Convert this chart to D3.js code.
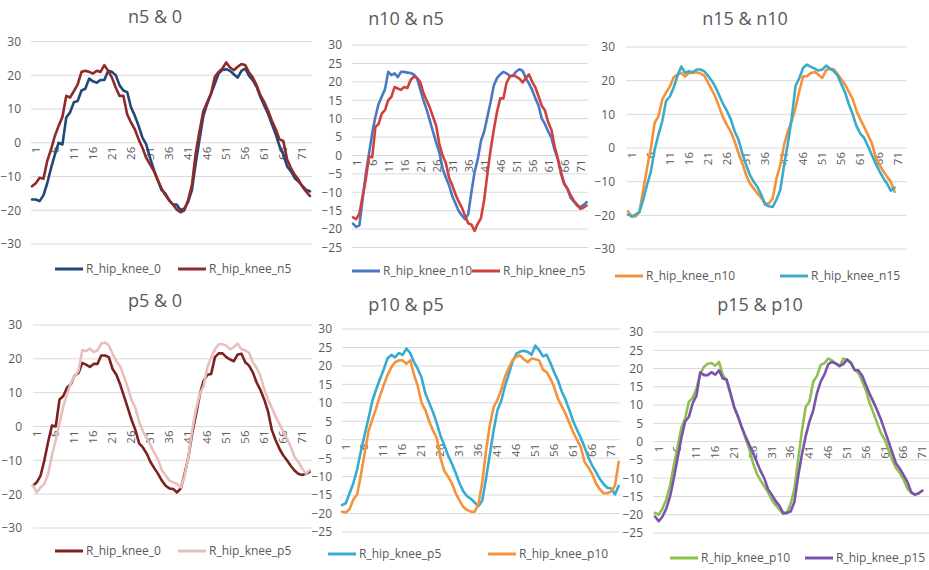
<!DOCTYPE html>
<html><head><meta charset="utf-8">
<script src="https://cdn.jsdelivr.net/npm/d3@7"></script>
<style>body{margin:0;background:#fff}svg{display:block}text{font-family:"Open Sans","Liberation Sans",sans-serif;fill:#595959}</style>
</head><body><svg id="c" width="929" height="570"></svg>
<script>
// ---------- data ----------
const titles = ["n5 & 0","n10 & n5","n15 & n10","p5 & 0","p10 & p5","p15 & p10"];
const seriesNames = [
  ["R_hip_knee_0","R_hip_knee_n5"],
  ["R_hip_knee_n10","R_hip_knee_n5"],
  ["R_hip_knee_n10","R_hip_knee_n15"],
  ["R_hip_knee_0","R_hip_knee_p5"],
  ["R_hip_knee_p5","R_hip_knee_p10"],
  ["R_hip_knee_p10","R_hip_knee_p15"]
];
const categories = d3.range(1, 75);
const xTickLabels = [1,6,11,16,21,26,31,36,41,46,51,56,61,66,71];
const yTicksA = [-30,-20,-10,0,10,20,30];
const yTicksB = [-25,-20,-15,-10,-5,0,5,10,15,20,25,30];

const p1_0 = [-16.8,-16.8,-17.3,-15.6,-12,-7.5,-3.5,0,-0.5,7.5,9,12,12.4,15.5,16,19,18.2,17.8,18.6,18.6,21.3,21,20,17,15.5,15,10.5,8,5,1.5,-0.5,-4.5,-8,-11,-14,-15,-17,-18.3,-18.3,-20,-19.5,-17.5,-14,-6,1,8,11.5,14.5,17.5,20.5,21.6,21.8,21.3,20.3,19.3,21.3,22,19.8,18.5,16.5,13.5,11,8.5,5.5,2.5,-1,-3.5,-7,-8.5,-10.5,-11.5,-12.8,-14,-14.4];
const p1_n5 = [-12.9,-12,-10.4,-10.7,-5.4,-2,2,5,7.7,13.9,13.4,15.3,17.3,21,21.3,21,20.5,21.3,21,23,21.3,19.3,16.3,13.9,13.9,8.4,6,4,1,-1.5,-4.5,-6.4,-8.4,-11,-13.5,-15.5,-17,-18.3,-19.8,-20.6,-20,-17,-12.5,-3,3.5,9.4,12,14.5,19.5,21,22,23.8,22.3,21.5,22.5,23.3,23,20.8,19.3,17,14,12,9.5,6.5,4,1,0.5,-5,-7.5,-9.5,-11,-13,-14.5,-15.8];

const p2_n10 = [-18.5,-19.4,-19,-12,-5,0.5,6,10.5,14,16,18,22.7,21.8,22.3,21.3,22.7,22.7,22.5,22.4,22,21,18,15,12.5,9.5,6.5,3.5,0.7,-3.5,-6,-8,-11,-13,-15,-16.3,-17.3,-16,-10,-4.5,-1,4,6.5,10.5,14.5,19,21,22,22.7,22.3,21.6,21.6,22.8,23.4,23,21,19.5,17.8,15.5,13.5,10,8.5,6.5,4.8,1.5,-1,-4.5,-7.5,-9,-11.5,-12.5,-13.6,-14,-13.5,-12.7];
const p2_n5 = [-16.8,-17.3,-15.8,-11,-6.5,-0.3,-0.5,7.7,8.6,11.4,12.3,15,15.9,18.6,18.2,17.8,18.6,18.3,20.5,21.4,21,20,17,15,13,10.5,8,3,0,-2,-6,-8,-10.5,-12.5,-14.1,-16.4,-18.4,-18.8,-20.5,-18.5,-17,-12,-5,1.5,7,11.8,15.5,15.5,19.8,21.4,21.8,21.4,20.9,19.8,21,22,20,18.5,16,13.5,12.2,9,7,2.5,-0.8,-5,-7.8,-9,-10.8,-12.3,-13.3,-14.5,-14.2,-13.6];

const p3_n10 = [-18.8,-20.3,-20.3,-19,-12.4,-6,0,7.5,9.4,14.4,16.5,18.3,21,21.8,22.3,21.2,22.3,22.3,22.5,22.2,21.5,19.5,17.3,15,12,9,6.8,4.8,2,-1.5,-4.5,-8,-10.5,-12,-13.5,-14.8,-16.5,-16.5,-15,-9,-5,1,5,8,12,17,21.3,21.3,22.3,22.6,21.8,20.8,23.1,23.5,23.4,22,20.4,18.8,16.7,14.5,11,8.5,6.3,3.9,1.5,-2.5,-5,-6.8,-8.5,-10,-13];
const p3_n15 = [-19.8,-20.3,-19.8,-19,-15.3,-11,-7,-0.5,4,8,14,15.3,18,21.5,24.2,22.3,22.8,22.5,23.3,23.3,22.8,21.5,20,18,15.5,13,11,8.5,5,2.5,-1.5,-5,-8,-10,-11.6,-13.9,-16.8,-17.3,-17.5,-15.3,-12.4,-5,1.5,9,18.5,20.8,23.8,24.8,24.1,23.6,23,23.3,24.5,23.6,22.9,21.6,19,16.5,13,10,6.5,4.3,3,0.6,-2,-4.5,-6.8,-8.9,-10.5,-12.7,-11.8];

const p4_0 = [-17.5,-16.5,-14.5,-10,-4.5,0.3,0,8,9,11.5,12.5,15,15.8,18.8,18.3,17.6,18.5,18.5,21,21,20.5,17,15.3,12.4,9,5.5,2,-1,-5,-6.2,-8,-10.5,-12.3,-14,-16,-17.5,-18.3,-18.5,-19.5,-18.3,-14,-9,-2,3.5,9.4,13.5,15.3,15.5,20.5,21.6,21.6,20.5,19.8,19.3,21.3,21.5,19,18,16,13,10.8,8,4.5,-1,-4,-6.5,-8.5,-10,-11.6,-13,-14,-14.3,-14,-13.4];
const p4_p5 = [-17.5,-19.5,-18,-17,-14,-8.5,-4,1,6,9.5,12.8,14.8,16.5,22.5,22.3,23,22,22.5,24.5,24.8,24,21.5,19.3,17.8,14.8,11.5,7.8,5.5,1.5,-1.5,-3.5,-5.5,-7.8,-9.8,-12.9,-14.5,-16,-16.5,-17,-18,-14.5,-9,-1,5,9.6,11.9,17.5,20.3,22.8,24.3,24.3,23.9,22.8,23.5,24.5,22.8,22.5,21.8,19,17.3,15,11,8,5.5,3,0.8,-1.5,-3.5,-6,-9,-10.5,-12.4,-13.9,-12.9];

const p5_p5 = [-17.7,-17.2,-14.5,-11.8,-8,-3,1.5,5.8,10.5,13.6,16.4,19,22,23,22.3,23.5,23,24.7,23.5,21,19.2,16.8,12.5,10,7.5,4.5,1,-1.5,-4.3,-6.5,-9,-11.8,-14,-15.3,-16,-17,-18,-16.5,-10.5,-4,2.5,8,10.5,14.5,17.8,21.2,23.3,23.9,24.1,23.8,23,25.5,24.3,22.6,23,20.8,18.2,16,13,10.8,8,5,2.7,0.5,-2,-4.8,-7,-8.7,-10.6,-12,-13,-13.2,-14.8,-12.5];
const p5_p10 = [-19.5,-19.7,-18.8,-16.2,-14.8,-9.5,-3.5,2.3,5.5,8.5,11.8,14.8,17.5,19.6,21,21.5,21.5,20.6,21.5,17.6,14.5,10,8,5,2.5,0.5,-5,-8.5,-10,-11.8,-14.5,-16.5,-18.2,-19,-19.5,-19.5,-17.5,-11.5,-3,4,8.8,10.8,13.5,17,19.5,21.6,22.5,22.8,21.8,21,22,21.8,21.5,19,18.3,16.5,14.2,11,9,7,4.5,2,0,-2,-6,-7.5,-9.3,-11.8,-13.4,-14.5,-14.5,-14,-12.5,-6];

const p6_p10 = [-19.5,-20,-18.3,-15.8,-12,-6.5,-1.5,3.8,6.4,10.9,12,14.5,18.5,20.5,21.3,21.5,20.8,21.8,18.2,16.8,13,9.5,6.8,4,1,-2,-5.8,-8.7,-10.6,-12.2,-13.8,-15.9,-17.3,-18.5,-19.8,-19.5,-17,-13,-5,3,9.5,11,16.4,18,21,21.5,22.7,22.2,21.3,20.6,22.7,22.3,21.5,19.6,18.8,16.5,14,10.5,7.8,5,2.3,0.5,-2.3,-5,-7.3,-8.6,-10.4,-12.8,-14,-14.5,-14.2];
const p6_p15 = [-20.5,-21.8,-20.5,-18.3,-15,-10,-4.5,1,5.5,6.8,10.5,12.5,19,18.2,18.2,19,18.3,19.5,17.3,17,13.5,9.5,7,4,1.5,-0.8,-3,-5.5,-8,-10,-13,-14.5,-16.2,-17.5,-19.5,-19.5,-19.1,-16.5,-9.5,-3.5,1.5,5.5,8.5,13.3,16.5,18.4,21.2,21.8,21.4,20.7,21.2,22.5,21.6,19.6,19.5,18,15.5,13,10.8,8.5,6,3,0,-3,-6,-7.4,-9.2,-11,-13.8,-14.5,-14.1,-13.4];

const seriesData = [[p1_0,p1_n5],[p2_n10,p2_n5],[p3_n10,p3_n15],[p4_0,p4_p5],[p5_p5,p5_p10],[p6_p10,p6_p15]];
const seriesColors = [["#24477a","#8e2a28"],["#4a78c4","#d0403f"],["#f5913a","#3aabc8"],["#7d2020","#e8bfbe"],["#38abd0","#f6923a"],["#8dc04c","#7b52ae"]];

// ---------- layout (per panel) ----------
const panels = [
  {gx:[31,312], px:[32,310],   yd:[-30,30], yr:[244,41.5], ticks:yTicksA, lx:21,  title:[155,23],  leg:{y:269,a:55,b:178}},
  {gx:[352,588],px:[353,586.6],yd:[-25,30], yr:[247.5,45], ticks:yTicksB, lx:342, title:[406,25],  leg:{y:271,a:352,b:472}},
  {gx:[626,907],px:[628,906],  yd:[-30,30], yr:[249,47],   ticks:yTicksA, lx:615, title:[745,25],  leg:{y:276,a:615,b:780}},
  {gx:[33,312], px:[33,309.7], yd:[-30,30], yr:[528,325],  ticks:yTicksA, lx:22,  title:[155,307], leg:{y:551,a:55,b:178}},
  {gx:[342,620],px:[342,618.7],yd:[-25,30], yr:[532,329],  ticks:yTicksB, lx:332, title:[406,311], leg:{y:554,a:328,b:488}},
  {gx:[653,929],px:[655,930],  yd:[-25,30], yr:[533,332],  ticks:yTicksB, lx:643, title:[760,311], leg:{y:558,a:670,b:805}}
];

const svg = d3.select("#c");
panels.forEach((p, k) => {
  const g = svg.append("g");
  const x = d3.scalePoint().domain(categories).range(p.px);
  const y = d3.scaleLinear().domain(p.yd).range(p.yr);
  // gridlines
  g.selectAll("line.grid").data(p.ticks).join("line")
    .attr("x1", p.gx[0]).attr("x2", p.gx[1])
    .attr("y1", d => y(d)).attr("y2", d => y(d))
    .attr("stroke", "#d9d9d9").attr("stroke-width", 1);
  // y axis labels
  const ya = d3.axisLeft(y).tickValues(p.ticks).tickSize(0).tickPadding(0);
  const yg = g.append("g").attr("transform", `translate(${p.lx},0)`).call(ya);
  yg.select(".domain").remove();
  yg.selectAll("text").attr("font-size", 12).style("fill", "#595959")
    .attr("font-family", "'Open Sans','Liberation Sans',sans-serif");
  // x axis labels (rotated)
  const y0 = y(0);
  g.selectAll("text.xl").data(xTickLabels).join("text")
    .attr("transform", d => `translate(${x(d) + 3},${y0 + 4}) rotate(-90)`)
    .attr("text-anchor", "end").attr("dominant-baseline", "central")
    .attr("font-size", 11.5).text(d => d);
  // series
  const line = d3.line().x((d, i) => x(categories[i])).y(d => y(d));
  seriesData[k].forEach((s, j) => {
    g.append("path").datum(s).attr("d", line)
      .attr("fill", "none").attr("stroke", seriesColors[k][j])
      .attr("stroke-width", 2.6).attr("stroke-linejoin", "round").attr("stroke-linecap", "round");
  });
  // title
  g.append("text").attr("x", p.title[0]).attr("y", p.title[1])
    .attr("text-anchor", "middle").attr("font-size", 18).text(titles[k]);
  // legend
  [p.leg.a, p.leg.b].forEach((lxp, j) => {
    g.append("line").attr("x1", lxp).attr("x2", lxp + 28)
      .attr("y1", p.leg.y).attr("y2", p.leg.y)
      .attr("stroke", seriesColors[k][j]).attr("stroke-width", 3);
    g.append("text").attr("x", lxp + 31).attr("y", p.leg.y).attr("dy", "0.35em")
      .attr("font-size", 12).text(seriesNames[k][j]);
  });
});
</script></body></html>
